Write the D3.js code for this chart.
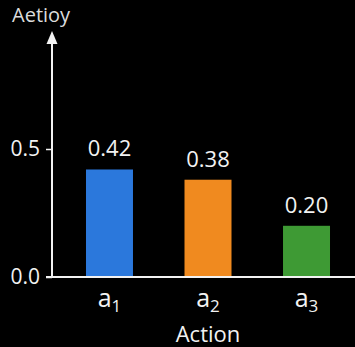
<!DOCTYPE html>
<html>
<head>
<meta charset="utf-8">
<script src="https://cdn.jsdelivr.net/npm/d3@7"></script>
<style>
  html, body { margin: 0; padding: 0; background: #000; }
  svg { display: block; }
  text { font-family: "Open Sans", "Noto Sans", sans-serif; }
</style>
</head>
<body>
<svg id="chart" width="355" height="347"></svg>
<script>
// Action probabilities per action
const categories = ["1", "2", "3"];
const values = [0.42, 0.38, 0.20];
const valueLabels = ["0.42", "0.38", "0.20"];
const barColors = ["#2b78dc", "#f08a1f", "#3e9a34"];
const yTicks = [0.0, 0.5];
const yTickLabels = ["0.0", "0.5"];
const yTitle = "Aetioy";
const xTitle = "Action";

const W = 355, H = 347;
const axisX = 52, axisY = 277;
const svg = d3.select("#chart");

const x = d3.scaleBand()
  .domain(categories)
  .range([axisX, 364])
  .paddingInner(0.523)
  .paddingOuter(0.345);

const y = d3.scaleLinear()
  .domain([0, 0.5])
  .range([axisY, 149]);

const fg = "#f2f2f2";

// bars
svg.selectAll("rect.bar")
  .data(values)
  .join("rect")
  .attr("class", "bar")
  .attr("x", (d, i) => x(categories[i]))
  .attr("width", x.bandwidth())
  .attr("y", d => y(d))
  .attr("height", d => y(0) - y(d))
  .attr("fill", (d, i) => barColors[i]);

// value labels
svg.selectAll("text.val")
  .data(values)
  .join("text")
  .attr("class", "val")
  .attr("x", (d, i) => x(categories[i]) + x.bandwidth() / 2)
  .attr("y", d => y(d) - 13)
  .attr("text-anchor", "middle")
  .attr("fill", fg)
  .attr("font-size", 22)
  .text((d, i) => valueLabels[i]);

// y axis
const yAxis = d3.axisLeft(y)
  .tickValues(yTicks)
  .tickFormat((d, i) => yTickLabels[i])
  .tickSize(6)
  .tickPadding(6);
const gy = svg.append("g").attr("transform", `translate(${axisX},0)`).call(yAxis);
gy.select(".domain").remove();
gy.selectAll(".tick line").attr("stroke", fg).attr("stroke-width", 1.5);
gy.selectAll(".tick text").attr("fill", fg).attr("font-size", 21)
  .attr("font-family", "'Open Sans', 'Noto Sans', sans-serif");

// y axis line with arrow
svg.append("line")
  .attr("x1", axisX).attr("x2", axisX)
  .attr("y1", axisY).attr("y2", 40)
  .attr("stroke", fg).attr("stroke-width", 2);
svg.append("path")
  .attr("d", `M${axisX - 5.5},${44} L${axisX},${31} L${axisX + 5.5},${44} Z`)
  .attr("fill", fg);

// x axis line
svg.append("line")
  .attr("x1", axisX - 6).attr("x2", W)
  .attr("y1", axisY).attr("y2", axisY)
  .attr("stroke", fg).attr("stroke-width", 2);

// x tick labels with subscripts
const xt = svg.selectAll("text.xt")
  .data(categories)
  .join("text")
  .attr("class", "xt")
  .attr("x", d => x(d) + x.bandwidth() / 2)
  .attr("y", 307)
  .attr("text-anchor", "middle")
  .attr("fill", fg)
  .attr("font-size", 25);
xt.append("tspan").text("a");
xt.append("tspan").attr("font-size", 17).attr("dy", 5).text(d => d);

// axis titles
svg.append("text")
  .attr("x", x(categories[1]) + x.bandwidth() / 2)
  .attr("y", 342)
  .attr("text-anchor", "middle")
  .attr("fill", fg)
  .attr("font-size", 22)
  .text(xTitle);

svg.append("text")
  .attr("x", 12)
  .attr("y", 22)
  .attr("fill", "#dcdcdc")
  .attr("font-size", 20)
  .text(yTitle);
</script>
</body>
</html>
